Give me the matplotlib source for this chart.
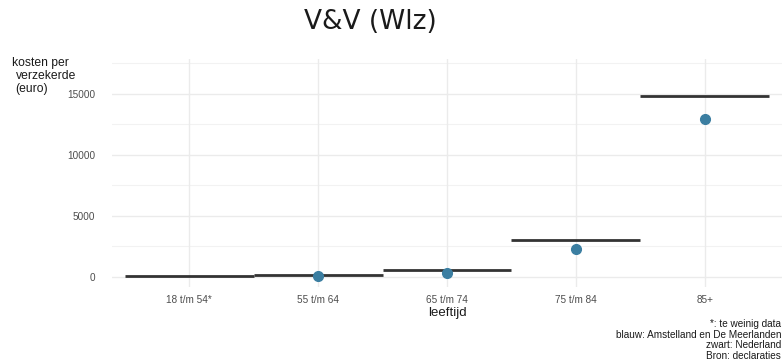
import numpy as np
import matplotlib.pyplot as plt

# data
leeftijd = ['18 t/m 54*', '55 t/m 64', '65 t/m 74', '75 t/m 84', '85+']
nederland = [20, 120, 570, 3000, 14840]      # zwart
amstelland = [None, 30, 300, 2300, 12930]    # blauw

plt.rcParams['font.family'] = ['Liberation Sans', 'DejaVu Sans']

fig = plt.figure(figsize=(7.82, 3.62), dpi=100)
ax = fig.add_axes([112/782, 1-287/362, 670/782, (287-59)/362])

x = np.arange(len(leeftijd))

# grid
for v in [0, 5000, 10000, 15000]:
    ax.axhline(v, color='#ebebeb', lw=1.0, zorder=0)
for v in [2500, 7500, 12500, 17500]:
    ax.axhline(v, color='#f2f2f2', lw=0.8, zorder=0)
for xi in x:
    ax.axvline(xi, color='#ebebeb', lw=1.0, zorder=0)

# black segments Nederland
for xi, v in zip(x, nederland):
    ax.plot([xi-0.5, xi+0.5], [v, v], color='#333333', lw=2.0, solid_capstyle='butt', zorder=2)

# blue dots regio
for xi, v in zip(x, amstelland):
    if v is not None:
        ax.plot(xi, v, 'o', color='#3b7ea1', ms=7, zorder=3)

ax.set_xlim(-0.6, 4.6)
ax.set_ylim(-850, 17840)
ax.set_xticks(x)
ax.set_xticklabels(leeftijd)
ax.set_yticks([0, 5000, 10000, 15000])
ax.set_yticklabels(['0', '5000', '10000', '15000'])
ax.tick_params(length=0, labelsize=7.2, colors='#4d4d4d', pad=6)
ax.tick_params(axis='y', pad=12)
for s in ax.spines.values():
    s.set_visible(False)

ax.set_xlabel('leeftijd', fontsize=9.5, color='#1a1a1a', labelpad=1)

fig.text(370/782, 1-22/362, 'V&V (Wlz)', ha='center', va='center', fontsize=19,
         family='DejaVu Sans', color='#1a1a1a')
# y-as titel, regel voor regel
ylab = [('kosten per', 12, 63), ('verzekerde', 16, 76), ('(euro)', 15, 89)]
for txt, px, py in ylab:
    fig.text(px/782, 1-py/362, txt, ha='left', va='center', fontsize=8.7, color='#1a1a1a')
fig.text(781/782, 1-319/362,
         '*: te weinig data\nblauw: Amstelland en De Meerlanden\nzwart: Nederland\nBron: declaraties',
         ha='right', va='top', fontsize=7.2, color='#1a1a1a', linespacing=1.08)

fig.savefig('out.png', dpi=100)
